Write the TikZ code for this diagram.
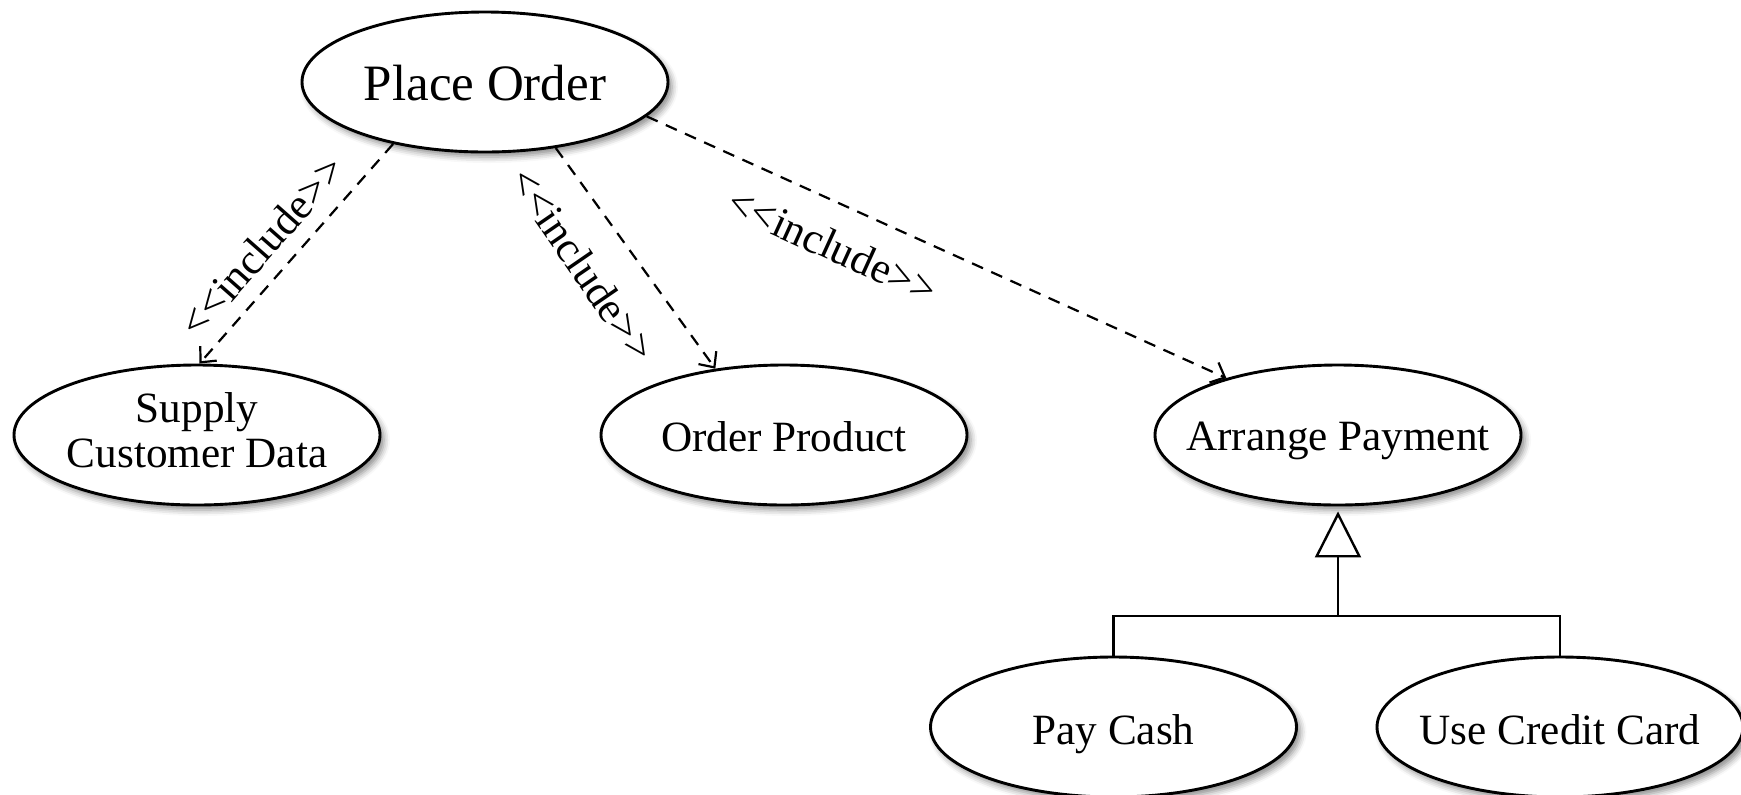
\documentclass[tikz,border=0pt]{standalone}
\usepackage{fontspec}
\setmainfont{Liberation Serif}
\usetikzlibrary{shapes.geometric,arrows.meta,shadows.blur}
\begin{document}
\begin{tikzpicture}[x=0.5pt,y=-0.5pt,
  uc/.style={ellipse, draw, line width=1.45pt, fill=white, minimum width=183pt, minimum height=70pt, inner sep=0pt,
    blur shadow={shadow xshift=2pt, shadow yshift=-2.5pt, shadow blur radius=3pt, shadow opacity=45}},
  uctext/.style={font=\fontsize{21.6}{22.5}\selectfont, align=center, inner sep=0pt},
  ucbase/.style={uctext, anchor=base},
  inc/.style={dash pattern=on 6pt off 4.5pt, line width=1.1pt, -{Straight Barb[length=6pt,width=11pt,line width=1.1pt]}},
  inclabel/.style={font=\fontsize{21.6}{22}\selectfont, inner sep=0pt},
  gen/.style={line width=1.2pt},
]
\useasboundingbox (0,0) rectangle (1741,794);

% use cases
\node[uc] (po) at (485,82) {};
\node[ucbase, font=\fontsize{25.5}{28}\selectfont] (pot) at (485,100) {Place Order};
\node[uc] (scd) at (197,435) {};
\node[uctext] (scdt) at (197,430) {Supply\\Customer Data};
\node[uc] (op) at (784,435) {};
\node[ucbase] (opt) at (784,451) {Order Product};
\node[uc] (ap) at (1338,435) {};
\node[ucbase] (apt) at (1338,450) {Arrange Payment};
\node[uc] (pc) at (1113.5,727) {};
\node[ucbase] (pct) at (1113.5,744) {Pay Cash};
\node[uc] (ucc) at (1560,727) {};
\node[ucbase] (ucct) at (1560,744) {Use Credit Card};

% include relations
\draw[inc] (po.214) -- (scd.88);
\draw[inc] (po.317) -- (op.136);
\draw[inc] (po.348) -- (ap.153);

\node[inclabel, rotate=48.6] (l1) at (262,246) {<{}<include>{}>};
\node[inclabel, rotate=-55.5] (l2) at (583,265) {<{}<include>{}>};
\node[inclabel, rotate=-24.5] (l3) at (833,246) {<{}<include>{}>};

% generalization
\coordinate (gj) at (1338,616);
\draw[gen] (pc.north) |- (gj) -| (ucc.north);
\draw[gen, -{Triangle[open,length=23pt,width=23pt,line width=1.2pt]}, shorten >=2.5pt] (gj) -- (ap.south);
\end{tikzpicture}
\end{document}
